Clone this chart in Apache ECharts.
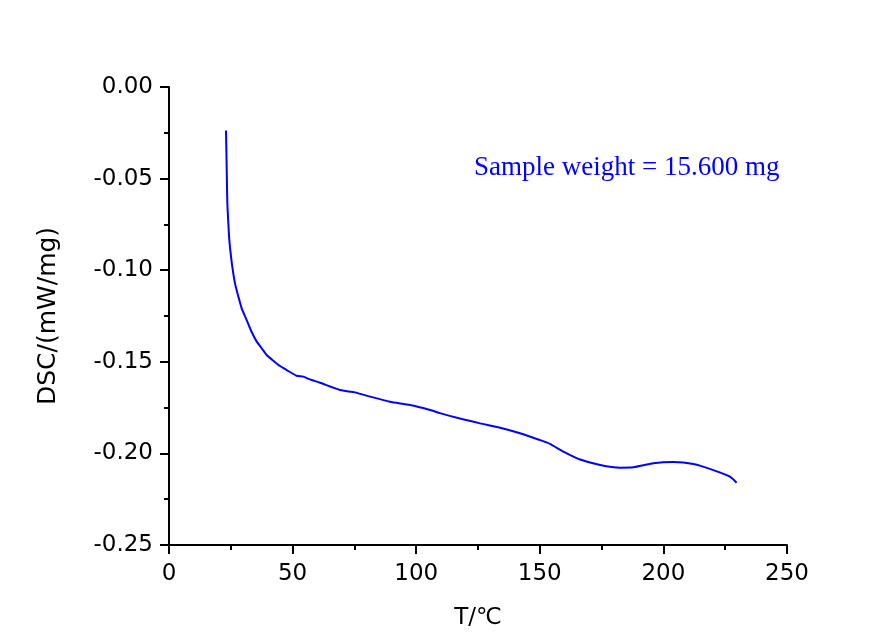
<!DOCTYPE html>
<html>
<head>
<meta charset="utf-8">
<script src="https://cdn.jsdelivr.net/npm/echarts@6/dist/echarts.min.js"></script>
<style>html,body{margin:0;padding:0;background:#fff}#c{width:896px;height:632px}</style>
</head>
<body>
<div id="c"></div>
<script>
var temperature = [23.06, 23.33, 23.6, 24.0, 24.4, 24.95, 25.6, 26.7, 28.05, 29.4, 31.4, 33.4, 35.5, 37.5, 39.5, 42.2, 44.9, 47.6, 51.6, 54.3, 57.0, 61.1, 69.2, 75.2, 81.3, 89.4, 97.5, 105.6, 109.6, 117.7, 125.8, 133.9, 142.0, 150.0, 154.1, 159.5, 166.3, 174.4, 182.4, 187.8, 195.9, 204.0, 212.1, 220.2, 226.9, 229.6];
var dsc = [-0.0238, -0.0435, -0.0635, -0.0744, -0.0835, -0.0908, -0.0981, -0.1072, -0.1144, -0.1208, -0.1272, -0.1336, -0.139, -0.1426, -0.1463, -0.1494, -0.1523, -0.1545, -0.1576, -0.1581, -0.1596, -0.1614, -0.1654, -0.1667, -0.169, -0.1718, -0.1736, -0.1763, -0.178, -0.181, -0.1836, -0.186, -0.189, -0.1927, -0.1948, -0.199, -0.2033, -0.2063, -0.2078, -0.2076, -0.2054, -0.2047, -0.2058, -0.2091, -0.2127, -0.216];
var xTicks = [0, 50, 100, 150, 200, 250];
var yTicks = [0.00, -0.05, -0.10, -0.15, -0.20, -0.25];
var annotation = 'Sample weight = 15.600 mg';

var data = temperature.map(function (t, i) { return [t, dsc[i]]; });
var chart = echarts.init(document.getElementById('c'), null, {renderer: 'canvas'});
var labelFont = {fontFamily: '"DejaVu Sans", sans-serif', fontSize: 23, color: '#000'};
var nameFont = {fontFamily: '"DejaVu Sans", sans-serif', fontSize: 25, color: '#000'};
chart.setOption({
  animation: false,
  backgroundColor: '#fff',
  grid: {left: 169, right: 109, top: 87, bottom: 87, containLabel: false, outerBoundsMode: 'none'},
  xAxis: {
    type: 'value', min: xTicks[0], max: xTicks[xTicks.length - 1], interval: 50,
    name: 'T/℃', nameLocation: 'middle', nameGap: 62,
    nameTextStyle: {fontFamily: '"DejaVu Sans", sans-serif', fontSize: 23, color: '#000'},
    axisLine: {onZero: false, lineStyle: {color: '#000', width: 2}},
    axisTick: {inside: false, length: 9, lineStyle: {color: '#000', width: 2}},
    minorTick: {show: true, splitNumber: 2, length: 5, lineStyle: {color: '#000', width: 2}},
    axisLabel: Object.assign({margin: 18}, labelFont),
    splitLine: {show: false}
  },
  yAxis: {
    type: 'value', min: yTicks[yTicks.length - 1], max: yTicks[0], interval: 0.05,
    name: 'DSC/(mW/mg)', nameLocation: 'middle', nameGap: 108, nameRotate: 90,
    nameTextStyle: nameFont,
    axisLine: {onZero: false, lineStyle: {color: '#000', width: 2}},
    axisTick: {inside: false, length: 9, lineStyle: {color: '#000', width: 2}},
    minorTick: {show: true, splitNumber: 2, length: 5, lineStyle: {color: '#000', width: 2}},
    axisLabel: Object.assign({margin: 16, formatter: function (v) { return v.toFixed(2); }}, labelFont),
    splitLine: {show: false}
  },
  series: [{
    type: 'line', data: data, smooth: 0.2, showSymbol: false,
    lineStyle: {color: '#0000ff', width: 2}
  }],
  graphic: [{
    type: 'text', left: 474, top: 154,
    style: {text: annotation, fill: '#0000ff', font: '27px "Liberation Serif", "Times New Roman", serif'}
  }]
});
</script>
</body>
</html>
